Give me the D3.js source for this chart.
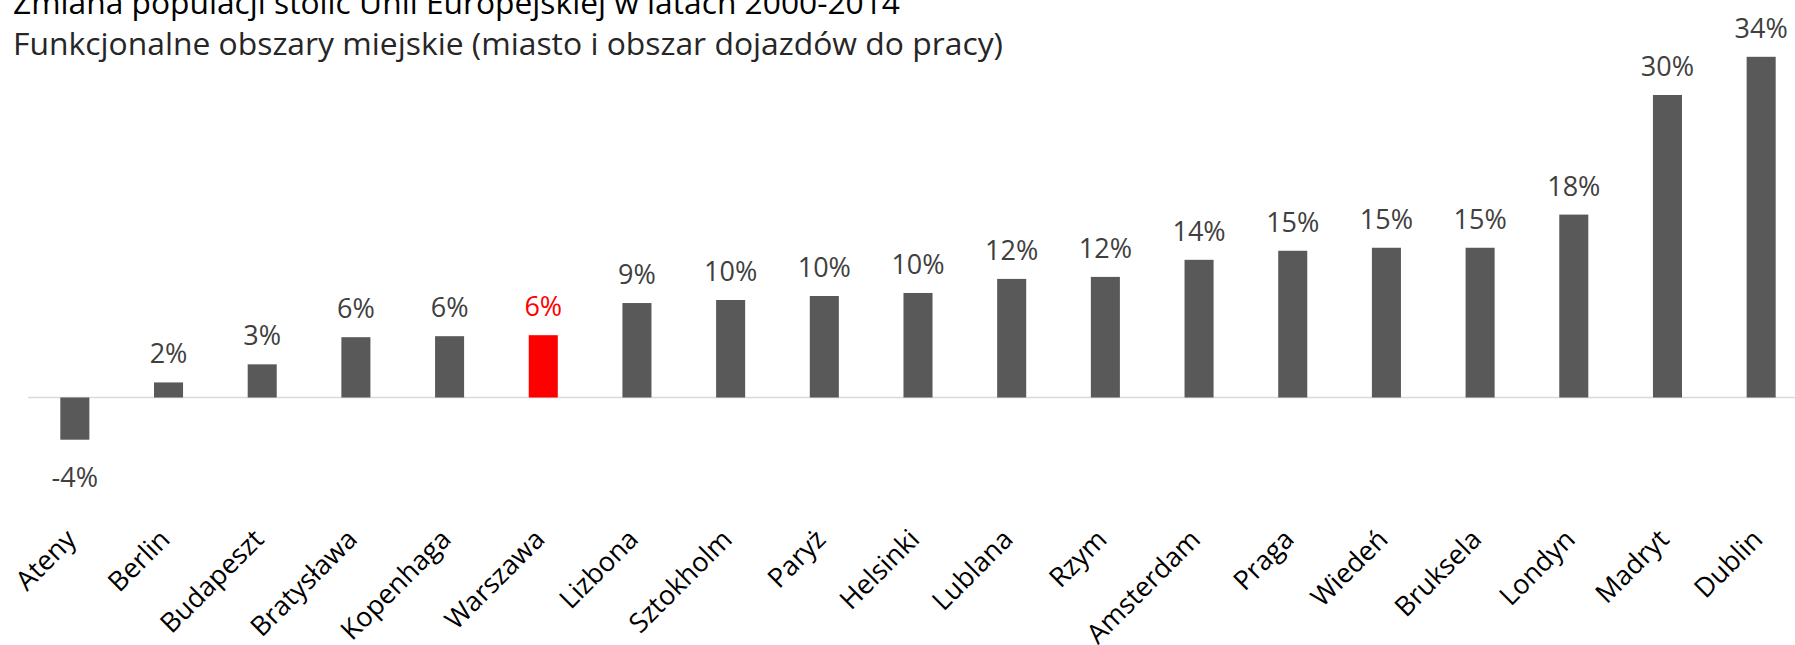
<!DOCTYPE html>
<html>
<head>
<meta charset="utf-8">
<script src="https://cdn.jsdelivr.net/npm/d3@7"></script>
<style>
  html, body { margin: 0; padding: 0; background: #fff; overflow: hidden; }
  svg { display: block; font-family: "Open Sans", "Noto Sans", sans-serif; }
</style>
</head>
<body>
<div id="chart"></div>
<script>
// population change of EU capitals 2000-2014 (functional urban areas), in %
const categories = ["Ateny", "Berlin", "Budapeszt", "Bratysława", "Kopenhaga", "Warszawa", "Lizbona",
  "Sztokholm", "Paryż", "Helsinki", "Lublana", "Rzym", "Amsterdam", "Praga", "Wiedeń", "Bruksela",
  "Londyn", "Madryt", "Dublin"];
const values = [-4.2, 1.5, 3.3, 6.0, 6.1, 6.2, 9.4, 9.7, 10.1, 10.4, 11.8, 12.0, 13.7, 14.6, 14.9, 14.9,
  18.2, 30.1, 33.9];
const highlighted = ["Warszawa"];
const title = "Zmiana populacji stolic Unii Europejskiej w latach 2000-2014";
const subtitle = "Funkcjonalne obszary miejskie (miasto i obszar dojazdów do pracy)";

const width = 1795, height = 645;
const data = categories.map((c, i) => ({ city: c, value: values[i] }));

let svg = d3.select("#chart")
  .append("svg")
  .attr("width", width)
  .attr("height", height);

let x = d3.scaleBand()
  .domain(categories)
  .range([28, 1808])
  .paddingInner(0.69)
  .paddingOuter(0.345);

// 10.05px per percentage point, zero at y=397.5
let y = d3.scaleLinear()
  .domain([-10, 35])
  .range([397.5 + 100.5, 397.5 - 351.75]);

// titles (top of the first line is cut off in the original)
svg.append("text")
  .attr("x", 13)
  .attr("y", 14)
  .attr("font-size", 31)
  .attr("fill", "#000")
  .attr("textLength", 887)
  .attr("lengthAdjust", "spacingAndGlyphs")
  .text(title);

svg.append("text")
  .attr("x", 13)
  .attr("y", 55)
  .attr("font-size", 31)
  .attr("fill", "#262626")
  .attr("textLength", 990)
  .attr("lengthAdjust", "spacingAndGlyphs")
  .text(subtitle);

// zero line
svg.append("line")
  .attr("x1", x.range()[0])
  .attr("x2", x.range()[1])
  .attr("y1", y(0))
  .attr("y2", y(0))
  .attr("stroke", "#d9d9d9")
  .attr("stroke-width", 1.5);

svg.append("g")
  .selectAll("rect")
  .data(data)
  .join("rect")
  .attr("x", d => x(d.city))
  .attr("width", x.bandwidth())
  .attr("y", d => y(Math.max(0, d.value)))
  .attr("height", d => Math.abs(y(d.value) - y(0)))
  .attr("fill", d => highlighted.includes(d.city) ? "#ff0000" : "#595959");

svg.append("g")
  .selectAll("text")
  .data(data)
  .join("text")
  .attr("x", d => x(d.city) + x.bandwidth() / 2)
  .attr("y", d => d.value >= 0 ? y(d.value) - 19 : y(d.value) + 47)
  .attr("text-anchor", "middle")
  .attr("font-size", 27)
  .attr("fill", d => highlighted.includes(d.city) ? "#ff0000" : "#404040")
  .text(d => Math.round(d.value) + "%");

// rotated category labels
let xAxis = d3.axisBottom(x).tickSize(0).tickPadding(0);
let gx = svg.append("g")
  .attr("transform", "translate(0,541)")
  .call(xAxis);
gx.select(".domain").remove();
gx.selectAll("text")
  .attr("x", 0)
  .attr("y", 0)
  .attr("dy", 0)
  .attr("transform", "translate(3,0) rotate(-45)")
  .attr("text-anchor", "end")
  .attr("font-family", "'Open Sans', sans-serif")
  .attr("font-size", 27)
  .attr("fill", "#000");
</script>
</body>
</html>
